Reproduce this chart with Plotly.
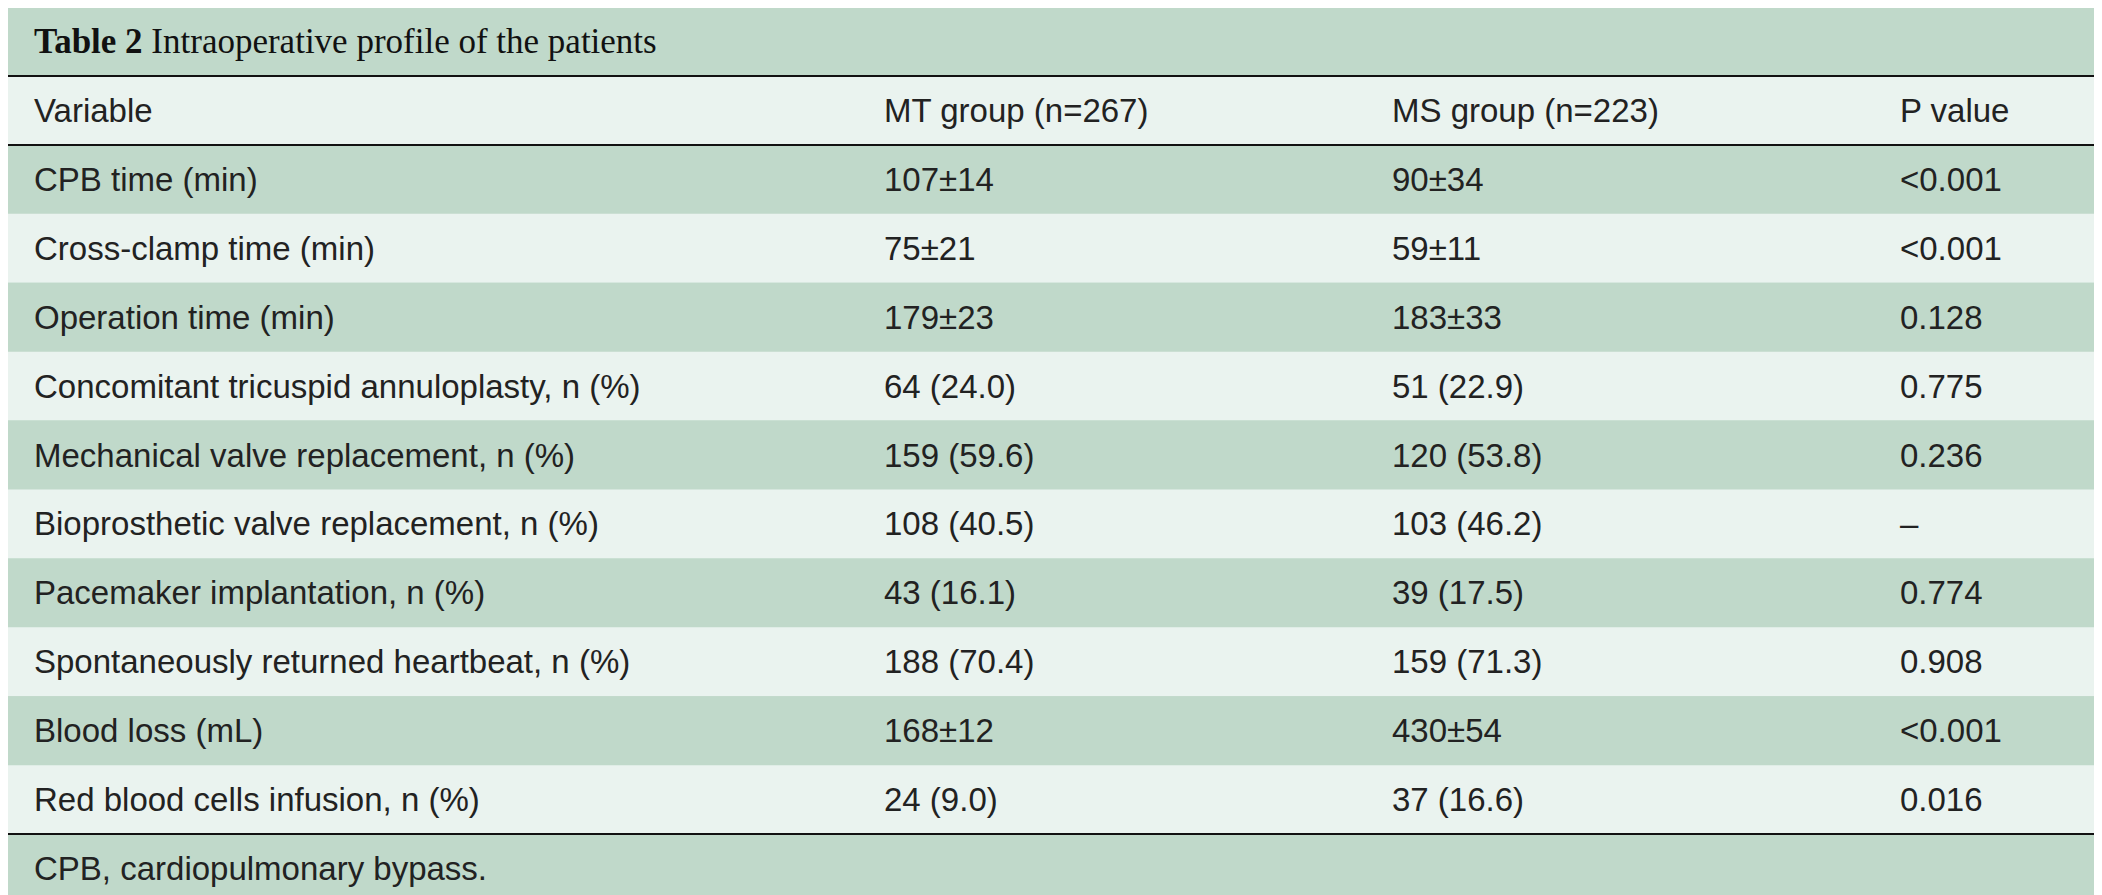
import plotly.graph_objects as go

title_bold = "Table 2"
title_rest = " Intraoperative profile of the patients"
headers = ["Variable", "MT group (n=267)", "MS group (n=223)", "P value"]
variables = ["CPB time (min)", "Cross-clamp time (min)", "Operation time (min)",
             "Concomitant tricuspid annuloplasty, n (%)", "Mechanical valve replacement, n (%)",
             "Bioprosthetic valve replacement, n (%)", "Pacemaker implantation, n (%)",
             "Spontaneously returned heartbeat, n (%)", "Blood loss (mL)",
             "Red blood cells infusion, n (%)"]
mt = ["107±14", "75±21", "179±23", "64 (24.0)", "159 (59.6)", "108 (40.5)", "43 (16.1)",
      "188 (70.4)", "168±12", "24 (9.0)"]
ms = ["90±34", "59±11", "183±33", "51 (22.9)", "120 (53.8)", "103 (46.2)", "39 (17.5)",
      "159 (71.3)", "430±54", "37 (16.6)"]
pv = ["<0.001", "<0.001", "0.128", "0.775", "0.236", "–", "0.774", "0.908", "<0.001", "0.016"]
footnote = "CPB, cardiopulmonary bypass."

DARK = "#c0d9ca"
LIGHT = "#eaf3ef"
W, H = 2102, 895
col_x = [24, 874, 1382, 1890]   # text left positions in px
FONT = dict(family="Liberation Sans", size=33, color="#222")

# row boundaries in px (top to bottom)
n = len(variables)
title_h = 68
row_h = (H - title_h) / (n + 2)
fig = go.Figure()

def yp(px):
    return 1 - px / H

def band(top, bottom, color):
    fig.add_shape(type="rect", xref="paper", yref="paper", x0=0, x1=1, y0=yp(bottom), y1=yp(top),
                  fillcolor=color, line_width=0, layer="below")

def row_text(top, bottom, texts, font=FONT):
    for x, t in zip(col_x, texts):
        if t == "":
            continue
        fig.add_annotation(xref="paper", yref="paper", x=x / W, y=yp((top + bottom) / 2),
                           xanchor="left", yanchor="middle", showarrow=False, text=t, font=font)

band(0, title_h, DARK)
fig.add_annotation(xref="paper", yref="paper", x=24 / W, y=yp(title_h / 2), xanchor="left",
                   yanchor="middle", showarrow=False, text=f"<b>{title_bold}</b>{title_rest}",
                   font=dict(family="Liberation Serif", size=35, color="#111"))
top = title_h
band(top, top + row_h, LIGHT)
row_text(top, top + row_h, headers)
top += row_h
for i in range(n):
    band(top, top + row_h, DARK if i % 2 == 0 else LIGHT)
    row_text(top, top + row_h, [variables[i], mt[i], ms[i], pv[i]])
    top += row_h
band(top, H, DARK)
row_text(top, H, [footnote, "", "", ""])

for py in [title_h, title_h + row_h, title_h + row_h * (n + 1)]:
    fig.add_shape(type="line", xref="paper", yref="paper", x0=0, x1=1, y0=yp(py), y1=yp(py),
                  line=dict(color="#111", width=2))

fig.update_xaxes(visible=False)
fig.update_yaxes(visible=False)
fig.update_layout(width=W, height=H, margin=dict(l=0, r=0, t=0, b=0),
                  paper_bgcolor=DARK, plot_bgcolor=DARK)
fig.write_html("out.html")
